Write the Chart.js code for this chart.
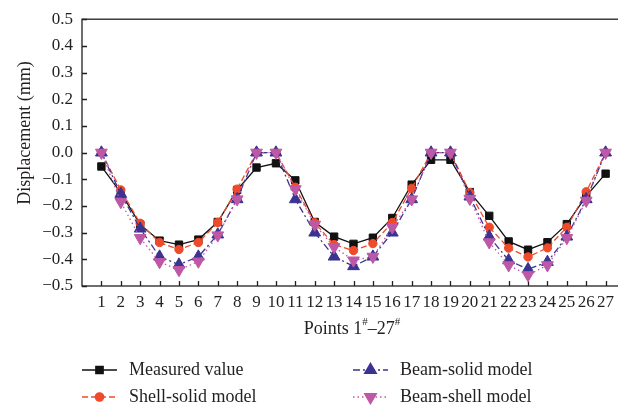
<!DOCTYPE html>
<html>
<head>
<meta charset="utf-8">
<script src="https://cdn.jsdelivr.net/npm/chart.js@4/dist/chart.umd.min.js"></script>
<style>
  body { margin: 0; overflow: hidden; background: #fff; }
  #wrap { width: 640px; height: 406px; }
</style>
</head>
<body>
<div id="wrap"><canvas id="chart"></canvas></div>
<script>
// measuring points 1# - 27#
var points = [];
for (var i = 1; i <= 27; i++) points.push(i);

// displacement (mm)
var measured   = [-0.052, -0.150, -0.270, -0.330, -0.345, -0.326, -0.260, -0.140, -0.056, -0.040, -0.104, -0.260, -0.315, -0.342, -0.319, -0.245, -0.120, -0.027, -0.027, -0.148, -0.237, -0.333, -0.364, -0.336, -0.268, -0.163, -0.079];
var shellSolid = [0, -0.140, -0.265, -0.337, -0.363, -0.337, -0.262, -0.137, 0, 0, -0.130, -0.263, -0.345, -0.367, -0.341, -0.262, -0.134, 0, 0, -0.150, -0.280, -0.358, -0.391, -0.357, -0.280, -0.147, 0];
var beamSolid  = [0, -0.155, -0.285, -0.390, -0.420, -0.390, -0.307, -0.175, 0, 0, -0.175, -0.300, -0.390, -0.426, -0.390, -0.300, -0.175, 0, 0, -0.165, -0.315, -0.404, -0.437, -0.410, -0.315, -0.175, 0];
var beamShell  = [0, -0.185, -0.320, -0.410, -0.440, -0.408, -0.310, -0.175, 0, 0, -0.137, -0.270, -0.354, -0.404, -0.390, -0.280, -0.175, 0, 0, -0.173, -0.336, -0.422, -0.459, -0.422, -0.320, -0.180, 0];

var yTicks = [-0.5, -0.4, -0.3, -0.2, -0.1, 0.0, 0.1, 0.2, 0.3, 0.4, 0.5];

var FONT = "'Liberation Serif', 'Times New Roman', serif";
var INK = "#231f20";

function toXY(values) {
    return values.map((v, i) => ({x: points[i], y: v}));
}

var series = [
    {label: "Measured value",    data: measured,   color: "#111111", dash: [],           style: "rect",     radius: 5.2, rot: 0,   order: 4},
    {label: "Shell-solid model", data: shellSolid, color: "#ef4a2b", dash: [6, 3],       style: "circle",   radius: 4.2, rot: 0,   order: 3},
    {label: "Beam-solid model",  data: beamSolid,  color: "#3b3391", dash: [7, 3, 2, 3], style: "triangle", radius: 6.8, rot: 0,   order: 2},
    {label: "Beam-shell model",  data: beamShell,  color: "#bd58a6", dash: [1.5, 3],     style: "triangle", radius: 6.8, rot: 180, order: 1}
];

// frame, inward ticks, axis titles and the two-column legend
var extras = {
    id: "extras",
    beforeDatasetsDraw(chart) {
        const ctx = chart.ctx;
        const a = chart.chartArea;
        const xs = chart.scales.x, ys = chart.scales.y;
        ctx.save();
        ctx.strokeStyle = INK;
        ctx.lineWidth = 1.3;
        ctx.strokeRect(a.left, a.top, a.right - a.left, a.bottom - a.top);
        ctx.beginPath();
        yTicks.forEach(v => {
            const y = Math.round(ys.getPixelForValue(v)) + 0.5;
            ctx.moveTo(a.left, y);
            ctx.lineTo(a.left + 5, y);
        });
        points.forEach(p => {
            const x = Math.round(xs.getPixelForValue(p)) + 0.5;
            ctx.moveTo(x, a.bottom);
            ctx.lineTo(x, a.bottom - 5);
        });
        ctx.stroke();
        ctx.restore();
    },
    afterDraw(chart) {
        const ctx = chart.ctx;
        ctx.save();
        ctx.fillStyle = INK;
        ctx.textBaseline = "middle";

        // y title
        ctx.save();
        ctx.translate(25, 133);
        ctx.rotate(-Math.PI / 2);
        ctx.font = "18px " + FONT;
        ctx.textAlign = "center";
        ctx.fillText("Displacement (mm)", 0, 0);
        ctx.restore();

        // x title with superscript marks
        const parts = [["Points 1", false], ["#", true], ["\u201327", false], ["#", true]];
        let total = 0;
        parts.forEach(p => {
            ctx.font = (p[1] ? "11px " : "18px ") + FONT;
            total += ctx.measureText(p[0]).width;
        });
        let x = 352 - total / 2;
        ctx.textAlign = "left";
        parts.forEach(p => {
            ctx.font = (p[1] ? "11px " : "18px ") + FONT;
            ctx.fillText(p[0], x, p[1] ? 322 : 329);
            x += ctx.measureText(p[0]).width;
        });

        // legend
        const slots = [[82, 370], [82, 397], [353, 370], [353, 397]];
        chart.data.datasets.forEach((ds, i) => {
            const s = slots[i];
            ctx.save();
            ctx.strokeStyle = ds.borderColor;
            ctx.lineWidth = 1.3;
            ctx.setLineDash(ds.borderDash);
            ctx.beginPath();
            ctx.moveTo(s[0], s[1]);
            ctx.lineTo(s[0] + 35, s[1]);
            ctx.stroke();
            ctx.setLineDash([]);
            ctx.fillStyle = ds.pointBackgroundColor;
            ctx.strokeStyle = ds.pointBorderColor;
            Chart.helpers.drawPoint(ctx, {
                pointStyle: ds.pointStyle, radius: ds.pointRadius,
                rotation: ds.pointRotation, borderWidth: 1
            }, s[0] + 17.5, s[1]);
            ctx.restore();
            ctx.font = "18px " + FONT;
            ctx.fillStyle = INK;
            ctx.fillText(ds.label, s[0] + 47, s[1]);
        });
        ctx.restore();
    }
};

new Chart(document.getElementById("chart"), {
    type: "line",
    data: {
        datasets: series.map(s => ({
            label: s.label,
            data: toXY(s.data),
            borderColor: s.color,
            borderWidth: 1.3,
            borderDash: s.dash,
            pointStyle: s.style,
            pointRadius: s.radius,
            pointRotation: s.rot,
            pointBackgroundColor: s.color,
            pointBorderColor: s.color,
            pointBorderWidth: 1,
            tension: 0,
            order: s.order
        }))
    },
    options: {
        responsive: true,
        maintainAspectRatio: false,
        animation: false,
        layout: {padding: {top: 15, right: 15, bottom: 68, left: 0}},
        plugins: {legend: {display: false}, tooltip: {enabled: false}},
        scales: {
            x: {
                type: "linear",
                min: 0,
                max: 28,
                grid: {display: false, drawTicks: false},
                border: {display: false},
                ticks: {
                    stepSize: 1,
                    autoSkip: false,
                    maxRotation: 0,
                    padding: 6,
                    color: INK,
                    font: {family: FONT, size: 17},
                    callback: v => (v >= 1 && v <= 27) ? String(v) : ""
                },
                afterFit: scale => { scale.height = 52; }
            },
            y: {
                min: -0.5,
                max: 0.5,
                grid: {display: false, drawTicks: false},
                border: {display: false},
                ticks: {
                    stepSize: 0.1,
                    padding: 9,
                    color: INK,
                    font: {family: FONT, size: 17},
                    callback: v => (v < -1e-9 ? "\u2212" : "") + Math.abs(v).toFixed(1)
                },
                afterFit: scale => { scale.width = 82; }
            }
        }
    },
    plugins: [extras]
});
</script>
</body>
</html>
